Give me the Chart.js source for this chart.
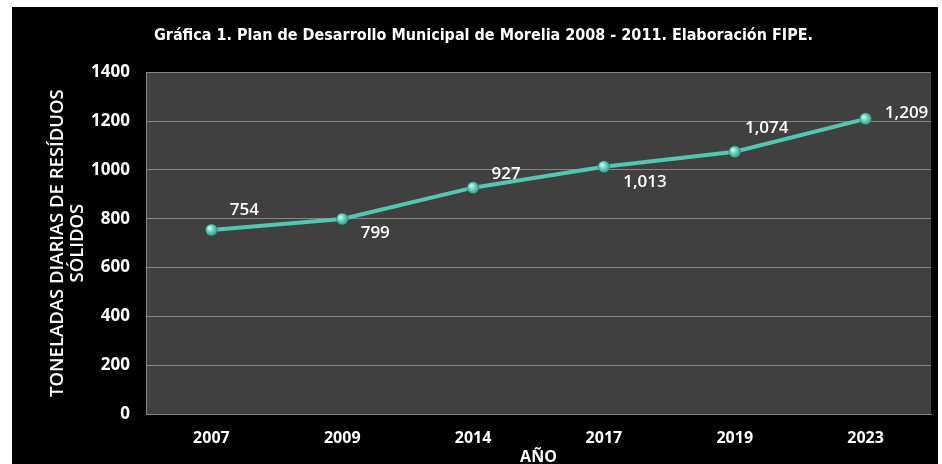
<!DOCTYPE html>
<html>
<head>
<meta charset="utf-8">
<script src="https://cdn.jsdelivr.net/npm/chart.js@4"></script>
<style>
  body { margin: 0; background: #fff; overflow: hidden; }
  #wrap { position: absolute; left: 12px; top: 7px; width: 926px; height: 463px; background: #000; }
</style>
</head>
<body>
<div id="wrap"><canvas id="residuos" width="926" height="463"></canvas></div>
<script>
const years = ["2007", "2009", "2014", "2017", "2019", "2023"];
const toneladas = [754, 799, 927, 1013, 1074, 1209];
const yTicks = [0, 200, 400, 600, 800, 1000, 1200, 1400];

// where each value label sits relative to its point
const labelShift = [[33, -20], [33, 14], [33, -14], [41, 15], [32, -24], [41, -6]];

const lineColor = "#4fc9b1";
const gridColor = "#858585";

// grey plotting area behind the line
const plotBackground = {
  id: "plotBackground",
  beforeDraw(chart) {
    const { ctx, chartArea: a } = chart;
    ctx.save();
    ctx.fillStyle = "#404040";
    ctx.fillRect(a.left, a.top, a.right - a.left, a.bottom - a.top);
    ctx.restore();
  },
};

// value labels next to the points
const valueLabels = {
  id: "valueLabels",
  afterDatasetsDraw(chart) {
    const ctx = chart.ctx;
    const meta = chart.getDatasetMeta(0);
    ctx.save();
    ctx.font = "600 17px 'Open Sans'";
    ctx.fillStyle = "#ffffff";
    ctx.textAlign = "center";
    ctx.textBaseline = "middle";
    meta.data.forEach((pt, i) => {
      const txt = toneladas[i].toLocaleString("en-US");
      ctx.fillText(txt, pt.x + labelShift[i][0], pt.y + labelShift[i][1]);
    });
    ctx.restore();
  },
};

// shaded "ball" look for the markers
function ballFill(context) {
  const chart = context.chart;
  const { x, y } = chart.scales;
  if (!x || !y || context.raw === undefined) return lineColor;
  const px = x.getPixelForValue(context.dataIndex);
  const py = y.getPixelForValue(context.raw);
  if (!Number.isFinite(px) || !Number.isFinite(py)) return lineColor;
  const g = chart.ctx.createRadialGradient(px - 2, py - 2, 0.5, px, py, 7);
  g.addColorStop(0, "#c8f7ec");
  g.addColorStop(0.45, "#5fd4bc");
  g.addColorStop(1, "#2b8a78");
  return g;
}

new Chart(document.getElementById("residuos"), {
  type: "line",
  data: {
    labels: years,
    datasets: [{
      data: toneladas,
      borderColor: lineColor,
      borderWidth: 4,
      tension: 0,
      pointRadius: 6,
      pointBackgroundColor: ballFill,
      pointBorderColor: "rgba(30, 90, 80, 0.6)",
      pointBorderWidth: 0.5,
    }],
  },
  options: {
    responsive: false,
    animation: false,
    events: [],
    layout: { padding: { left: 24, right: 7, top: 0, bottom: 0 } },
    plugins: {
      legend: { display: false },
      tooltip: { enabled: false },
      title: {
        display: true,
        text: "Gráfica 1. Plan de Desarrollo Municipal de Morelia 2008 - 2011. Elaboración FIPE.",
        color: "#ffffff",
        font: { family: "'DejaVu Sans Condensed', 'DejaVu Sans'", size: 16, weight: "bold" },
        padding: { top: 19, bottom: 27 },
      },
    },
    scales: {
      x: {
        offset: true,
        grid: { display: false },
        border: { display: true, color: gridColor, width: 1 },
        ticks: {
          color: "#ffffff",
          font: { family: "'Open Sans'", size: 16, weight: "bold" },
          padding: 7,
          maxRotation: 0,
        },
        title: {
          display: true,
          text: "AÑO",
          color: "#ffffff",
          font: { family: "'Open Sans'", size: 16, weight: "bold" },
          padding: { top: 0, bottom: 3 },
        },
        afterFit(scale) { scale.height = 56; },
      },
      y: {
        min: 0,
        max: 1400,
        afterBuildTicks(scale) { scale.ticks = yTicks.map((v) => ({ value: v })); },
        grid: { color: gridColor, lineWidth: 1, drawTicks: false },
        border: { display: true, color: gridColor, width: 1 },
        ticks: {
          color: "#ffffff",
          font: { family: "'Open Sans'", size: 17, weight: "bold" },
          padding: 16,
          callback: (v) => String(v),
        },
        title: {
          display: true,
          text: ["TONELADAS DIARIAS DE RESÍDUOS", "SÓLIDOS"],
          color: "#ffffff",
          font: { family: "'Open Sans'", size: 18.5, weight: "600", lineHeight: 1.06 },
          padding: { top: 12, bottom: 0 },
        },
        afterFit(scale) { scale.width = 110; },
      },
    },
  },
  plugins: [plotBackground, valueLabels],
});
</script>
</body>
</html>
